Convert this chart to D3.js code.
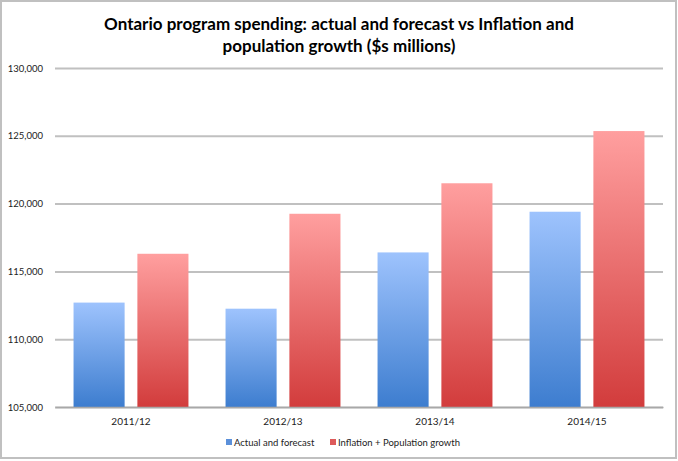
<!DOCTYPE html>
<html><head><meta charset="utf-8">
<script src="https://cdn.jsdelivr.net/npm/d3@7"></script>
<style>body{margin:0;background:#fff}svg{display:block}</style>
</head><body>
<svg id="c" width="678" height="461"></svg>
<script>
const categories = ["2011/12","2012/13","2013/14","2014/15"];
const seriesNames = ["Actual and forecast","Inflation + Population growth"];
const actual = [112700, 112250, 116400, 119400];
const inflationPop = [116300, 119250, 121500, 125350];
const yTicks = [105000,110000,115000,120000,125000,130000];
const titleLines = ["Ontario program spending: actual and forecast vs Inflation and","population growth ($s millions)"];

const svg = d3.select("#c");
const font = "Lato, 'Open Sans', sans-serif";
const m = {left:55, right:15, top:68, bottom:54};
const W = 678, H = 461;
const pw = 663 - m.left, ph = 407 - m.top;

const defs = svg.append("defs");
const grads = [["gb","#9ec3fd","#3d7dcf"],["gr","#ff9f9f","#d23c3c"]];
grads.forEach(([id,a,b])=>{
  const g = defs.append("linearGradient").attr("id",id).attr("x1",0).attr("y1",0).attr("x2",0).attr("y2",1);
  g.append("stop").attr("offset","0%").attr("stop-color",a);
  g.append("stop").attr("offset","100%").attr("stop-color",b);
});

svg.append("rect").attr("x",1).attr("y",1).attr("width",675).attr("height",457)
  .attr("fill","#fff").attr("stroke","#c0c0c0").attr("stroke-width",2);

const t = svg.append("text").attr("x",339).attr("text-anchor","middle")
  .attr("font-family",font).attr("font-weight","bold").attr("font-size",17).attr("fill","#000");
titleLines.forEach((l,i)=>t.append("tspan").attr("x",339).attr("y",30+i*22).text(l));

const g = svg.append("g").attr("transform",`translate(${m.left},${m.top})`);
const y = d3.scaleLinear().domain([105000,130000]).range([ph,0]);
const x0 = d3.scaleBand().domain(categories).range([0,pw]).paddingInner(0.244).paddingOuter(0.122);
const x1 = d3.scaleBand().domain([0,1]).range([0,x0.bandwidth()]).paddingInner(0.2);

const yAxis = d3.axisLeft(y).tickValues(yTicks).tickSize(-pw).tickPadding(4)
  .tickFormat(d3.format(","));
const ya = g.append("g").call(yAxis);
ya.select(".domain").remove();
ya.selectAll(".tick line").attr("stroke","#c0c0c0").attr("stroke-width",2);
ya.selectAll(".tick text").attr("font-family",font).attr("font-size",9.5).attr("fill","#222")
  .attr("x",-12);

const data = categories.map((c,i)=>({c, v:[actual[i], inflationPop[i]]}));
const grp = g.selectAll(".grp").data(data).join("g").attr("transform",d=>`translate(${x0(d.c)},0)`);
grp.selectAll("rect").data(d=>d.v.map((v,k)=>({v,k}))).join("rect")
  .attr("x",d=>x1(d.k)).attr("width",x1.bandwidth())
  .attr("y",d=>y(d.v)).attr("height",d=>ph - y(d.v))
  .attr("fill",d=>d.k===0?"url(#gb)":"url(#gr)");

const xAxis = d3.axisBottom(x0).tickSize(0).tickPadding(11);
const xa = g.append("g").attr("transform",`translate(0,${ph})`).call(xAxis);
xa.select(".domain").attr("stroke","#a8a8a8").attr("stroke-width",1.5);
xa.selectAll(".tick text").attr("font-family",font).attr("font-size",10).attr("fill","#222");

const leg = svg.append("g").attr("font-family",font).attr("font-size",9.5);
const legX = [226, 330];
seriesNames.forEach((n,i)=>{
  leg.append("rect").attr("x",legX[i]).attr("y",439).attr("width",6).attr("height",6)
    .attr("fill",i===0?"#5b90da":"#dd5a5a");
  leg.append("text").attr("x",legX[i]+8).attr("y",446).attr("fill","#222").text(n);
});
</script>
</body></html>
